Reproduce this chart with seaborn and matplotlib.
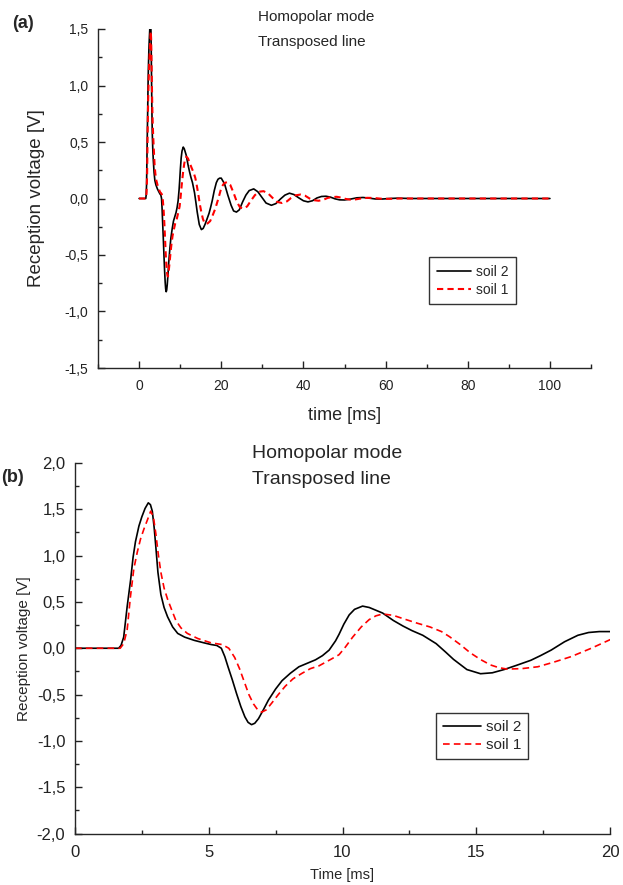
import numpy as np
import pandas as pd
import matplotlib
matplotlib.use("Agg")
import matplotlib.pyplot as plt
import seaborn as sns
from matplotlib.ticker import MultipleLocator, FuncFormatter

# ----------------------------
# Dados (tempo em ms, tensão em V)
# ----------------------------
t_soil2 = [0, 1.63, 1.72, 1.82, 1.95, 2.08, 2.17, 2.26, 2.39, 2.5, 2.62, 2.74, 2.82, 2.89, 2.96,
           3.02, 3.1, 3.21, 3.33, 3.46, 3.65, 3.84, 4.1, 4.46, 4.8, 5.09, 5.3, 5.47, 5.6, 5.72,
           5.88, 6.04, 6.2, 6.35, 6.47, 6.6, 6.72, 6.86, 7.05, 7.23, 7.5, 7.74, 8.05, 8.37, 8.7,
           8.99, 9.25, 9.5, 9.74, 9.87, 10.05, 10.25, 10.45, 10.75, 11.0, 11.5, 11.9, 12.26, 12.6,
           13.0, 13.5, 13.85, 14.15, 14.65, 15.16, 15.6, 16.04, 16.5, 17.04, 17.4, 17.8, 18.3,
           18.8, 19.2, 19.6, 20.0, 20.8, 21.6, 22.4, 23.0, 23.7, 24.4, 25.2, 26.0, 26.8, 27.9,
           28.9, 29.9, 30.9, 32.2, 33.3, 34.4, 35.5, 36.6, 37.7, 38.9, 40.0, 41.1, 42.2, 43.3,
           44.4, 45.5, 46.6, 47.7, 48.8, 50.0, 51.5, 53.0, 54.5, 56.0, 57.5, 59.0, 61.0, 63.0,
           66.0, 70.0, 100.0]
v_soil2 = [0, 0, 0.03, 0.12, 0.45, 0.74, 0.98, 1.15, 1.32, 1.42, 1.51, 1.57, 1.55, 1.48, 1.3,
           1.1, 0.82, 0.58, 0.44, 0.34, 0.23, 0.16, 0.12, 0.085, 0.06, 0.04, 0.03, 0.0, -0.09, -0.2,
           -0.34, -0.49, -0.63, -0.74, -0.8, -0.825, -0.81, -0.76, -0.66, -0.56, -0.44, -0.35, -0.27, -0.2, -0.16,
           -0.125, -0.08, -0.02, 0.08, 0.15, 0.26, 0.36, 0.42, 0.455, 0.44, 0.38, 0.3, 0.24, 0.19,
           0.14, 0.05, -0.04, -0.12, -0.23, -0.275, -0.265, -0.23, -0.185, -0.13, -0.08, -0.02, 0.07,
           0.14, 0.17, 0.18, 0.18, 0.13, 0.03, -0.06, -0.11, -0.12, -0.10, -0.03, 0.03, 0.07, 0.085,
           0.06, 0.01, -0.04, -0.06, -0.045, -0.005, 0.03, 0.047, 0.035, 0.005, -0.02, -0.03, -0.02, 0.005,
           0.018, 0.02, 0.012, -0.003, -0.012, -0.013, -0.005, 0.006, 0.009, 0.003, -0.004, -0.005, 0.0, 0.003,
           0.0, 0.0, 0.0]

t_soil1 = [0, 1.69, 1.82, 1.95, 2.07, 2.2, 2.33, 2.45, 2.58, 2.7, 2.83, 2.93, 3.02, 3.12, 3.21,
           3.33, 3.46, 3.58, 3.77, 3.96, 4.2, 4.59, 5.09, 5.5, 5.75, 5.97, 6.15, 6.35, 6.5, 6.67,
           6.83, 6.98, 7.15, 7.36, 7.6, 7.86, 8.15, 8.49, 8.8, 9.12, 9.5, 9.87, 10.1, 10.38, 10.7,
           11.0, 11.25, 11.5, 11.9, 12.26, 12.8, 13.27, 13.7, 14.0, 14.4, 14.78, 15.15, 15.53, 15.85,
           16.16, 16.7, 17.3, 17.9, 18.55, 19.3, 20.06, 20.7, 21.4, 22.2, 23.0, 23.8, 24.6, 25.4,
           26.3, 27.2, 28.2, 29.2, 30.3, 31.4, 32.5, 33.6, 34.8, 36.0, 37.0, 38.1, 39.3, 40.4, 41.5,
           42.6, 43.7, 44.8, 45.9, 47.0, 48.1, 49.2, 50.3, 51.4, 52.5, 54.0, 55.5, 57.0, 59.0, 61.0,
           64.0, 70.0, 100.0]
v_soil1 = [0, 0, 0.05, 0.2, 0.55, 0.86, 1.04, 1.18, 1.29, 1.38, 1.48, 1.42, 1.24, 1.0, 0.82,
           0.65, 0.53, 0.44, 0.3, 0.22, 0.16, 0.105, 0.058, 0.04, 0.0, -0.1, -0.22, -0.38, -0.5, -0.6,
           -0.665, -0.69, -0.665, -0.59, -0.5, -0.41, -0.33, -0.27, -0.22, -0.19, -0.13, -0.07, 0.01, 0.12, 0.23,
           0.31, 0.35, 0.37, 0.355, 0.32, 0.27, 0.23, 0.18, 0.125, 0.04, -0.05, -0.12, -0.18, -0.21,
           -0.225, -0.22, -0.2, -0.15, -0.09, 0.0, 0.1, 0.135, 0.145, 0.12, 0.05, -0.03, -0.08, -0.09,
           -0.07, -0.02, 0.03, 0.06, 0.065, 0.045, 0.005, -0.03, -0.04, -0.025, 0.005, 0.028, 0.035, 0.025, 0.0,
           -0.015, -0.02, -0.012, 0.005, 0.013, 0.015, 0.008, -0.004, -0.01, -0.009, 0.0, 0.006, 0.005, -0.002, -0.003,
           0.0, 0.0, 0.0]

# ----------------------------
# Estilo
# ----------------------------
sns.set_style("ticks")
plt.rcParams["font.family"] = ["Liberation Sans", "DejaVu Sans"]
plt.rcParams["axes.linewidth"] = 1.0

virgula = FuncFormatter(lambda v, p: f"{round(v, 2):.1f}".replace(".", ",").replace("-0,0", "0,0"))

W, H = 623, 885
fig = plt.figure(figsize=(W / 100, H / 100), dpi=100)


def caixa(x0, y0, x1, y1):
    return [x0 / W, 1 - y1 / H, (x1 - x0) / W, (y1 - y0) / H]


def desenhar(ax, lw_red, dashes):
    sns.lineplot(x=t_soil2, y=v_soil2, ax=ax, color="black", lw=1.2, label="soil 2", sort=False)
    sns.lineplot(x=t_soil1, y=v_soil1, ax=ax, color="red", lw=lw_red, label="soil 1", sort=False,
                 dashes=False)
    ax.lines[1].set_dashes(dashes)
    sns.despine(ax=ax)
    ax.tick_params(which="major", direction="in", length=5, width=1, colors="#222222")
    ax.tick_params(which="minor", direction="in", length=3, width=1, colors="#222222")
    ax.yaxis.set_major_formatter(virgula)
    ax.set_facecolor("white")


# ----------------------------
# (a) 0 - 100 ms
# ----------------------------
ax1 = fig.add_axes(caixa(98, 29, 591, 368))
desenhar(ax1, 1.5, (3, 2))
ax1.set_xlim(-10, 110)
ax1.set_ylim(-1.5, 1.5)
ax1.xaxis.set_major_locator(MultipleLocator(20))
ax1.xaxis.set_minor_locator(MultipleLocator(10))
ax1.yaxis.set_major_locator(MultipleLocator(0.5))
ax1.yaxis.set_minor_locator(MultipleLocator(0.25))
ax1.tick_params(axis="y", labelsize=10, pad=7)
ax1.tick_params(axis="x", labelsize=10, pad=8)
ax1.set_xlabel("time [ms]", fontsize=13, labelpad=10)
ax1.set_ylabel("Reception voltage [V]", fontsize=13.5, labelpad=14)
ax1.legend(loc="upper left", bbox_to_anchor=(429 / W, 1 - 257 / H), bbox_transform=fig.transFigure,
           borderaxespad=0, fontsize=10, frameon=True, fancybox=False, edgecolor="black",
           handlelength=2.5, labelspacing=0.3, borderpad=0.55, handletextpad=0.3)
ax1.get_legend().get_frame().set_linewidth(1.0)
fig.text(258 / W, 1 - 17 / H, "Homopolar mode", fontsize=11, va="center", ha="left")
fig.text(258 / W, 1 - 42 / H, "Transposed line", fontsize=11, va="center", ha="left")
fig.text(12 / W, 1 - 24 / H, "(a)", fontsize=13, fontweight="bold", va="center", ha="left")

# ----------------------------
# (b) zoom 0 - 20 ms
# ----------------------------
ax2 = fig.add_axes(caixa(75, 463, 610, 833.5))
desenhar(ax2, 1.2, (4, 2.5))
ax2.set_xlim(0, 20)
ax2.set_ylim(-2.0, 2.0)
ax2.xaxis.set_major_locator(MultipleLocator(5))
ax2.xaxis.set_minor_locator(MultipleLocator(2.5))
ax2.yaxis.set_major_locator(MultipleLocator(0.5))
ax2.yaxis.set_minor_locator(MultipleLocator(0.25))
ax2.tick_params(axis="y", labelsize=12, pad=7)
ax2.tick_params(axis="x", labelsize=12, pad=8)
ax2.set_xlabel("Time [ms]", fontsize=10.5, labelpad=6)
ax2.set_ylabel("Reception voltage [V]", fontsize=11, labelpad=4)
ax2.legend(loc="upper left", bbox_to_anchor=(436 / W, 1 - 713 / H), bbox_transform=fig.transFigure,
           borderaxespad=0, fontsize=11, frameon=True, fancybox=False, edgecolor="black",
           handlelength=2.5, labelspacing=0.3, borderpad=0.45, handletextpad=0.3)
ax2.get_legend().get_frame().set_linewidth(1.0)
fig.text(252 / W, 1 - 453 / H, "Homopolar mode", fontsize=14, va="center", ha="left")
fig.text(252 / W, 1 - 479 / H, "Transposed line", fontsize=14, va="center", ha="left")
fig.text(1 / W, 1 - 478 / H, "(b)", fontsize=13, fontweight="bold", va="center", ha="left")

fig.savefig("out.png", dpi=100, facecolor="white")
